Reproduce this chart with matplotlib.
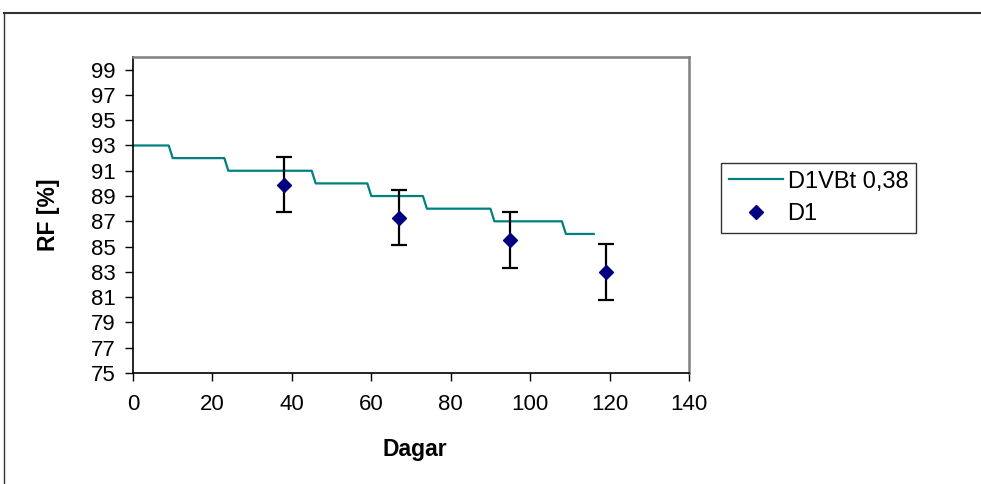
import matplotlib
matplotlib.use("Agg")
import matplotlib.pyplot as plt
from matplotlib.lines import Line2D

plt.rcParams['font.family'] = ['Liberation Sans', 'DejaVu Sans']

# Model curve (vertices of the stepped line)
model_days = [0, 9, 10, 23, 24, 45, 46, 59, 60, 73, 74, 90, 91, 108, 109, 116]
model_rf = [93, 93, 92, 92, 91, 91, 90, 90, 89, 89, 88, 88, 87, 87, 86, 86]
model_label = "D1VBt 0,38"

# Measurements
meas_days = [38, 67, 95, 119]
meas_rf = [89.9, 87.3, 85.5, 83.0]
meas_err = [2.2, 2.2, 2.2, 2.2]
meas_label = "D1"

xticks = [0, 20, 40, 60, 80, 100, 120, 140]
yticks = [75, 77, 79, 81, 83, 85, 87, 89, 91, 93, 95, 97, 99]

FS = 16
W, H = 981, 484
fig = plt.figure(figsize=(W / 100, H / 100), dpi=100)
ax = fig.add_axes([133 / W, 1 - 373 / H, (689 - 133) / W, (373 - 57) / H])

ax.plot(model_days, model_rf, color='#008080', lw=1.6, label=model_label, zorder=2)
ax.errorbar(meas_days, meas_rf, yerr=meas_err, fmt='none', ecolor='black',
            elinewidth=1.6, capsize=5.8, capthick=1.6, zorder=3)
ax.plot(meas_days, meas_rf, linestyle='none', marker='D', markersize=7.5,
        color='#000080', label=meas_label, zorder=4)

ax.set_xlim(0, 140)
ax.set_ylim(75, 100)
ax.set_xticks(xticks)
ax.set_yticks(yticks)
ax.tick_params(axis='x', direction='out', length=5.5, width=1, pad=9.5, labelsize=FS)
ax.tick_params(axis='y', direction='out', length=5.5, width=1, pad=7, labelsize=FS)

for s in ['left', 'bottom']:
    ax.spines[s].set_color('black')
    ax.spines[s].set_linewidth(1.2)
for s in ['top', 'right']:
    ax.spines[s].set_color('#808080')
    ax.spines[s].set_linewidth(1.8)

ax.set_xlabel('Dagar', fontsize=FS + 0.5, fontweight='bold')
ax.set_ylabel('RF [%]', fontsize=FS + 0.5, fontweight='bold')
ax.xaxis.set_label_coords((415 - 133) / 556, -(438 - 373) / 316)
ax.yaxis.set_label_coords(-(133 - 60) / 556, 0.5)

leg = fig.legend(loc='upper left', bbox_to_anchor=(721 / W, 1 - 163 / H),
                 fontsize=17, frameon=True, fancybox=False, shadow=False,
                 handlelength=2.3, handletextpad=0.2, labelspacing=0.45,
                 borderpad=0.32, borderaxespad=0)
leg.get_frame().set_edgecolor('black')
leg.get_frame().set_linewidth(1.0)

# outer chart-area border (only top and left visible)
fig.add_artist(Line2D([4 / W, 1.0], [1 - 13 / H, 1 - 13 / H], transform=fig.transFigure,
                      color='#333333', lw=1.5))
fig.add_artist(Line2D([4 / W, 4 / W], [0, 1 - 13 / H], transform=fig.transFigure,
                      color='#333333', lw=1.0))

fig.savefig('out.png', dpi=100)
